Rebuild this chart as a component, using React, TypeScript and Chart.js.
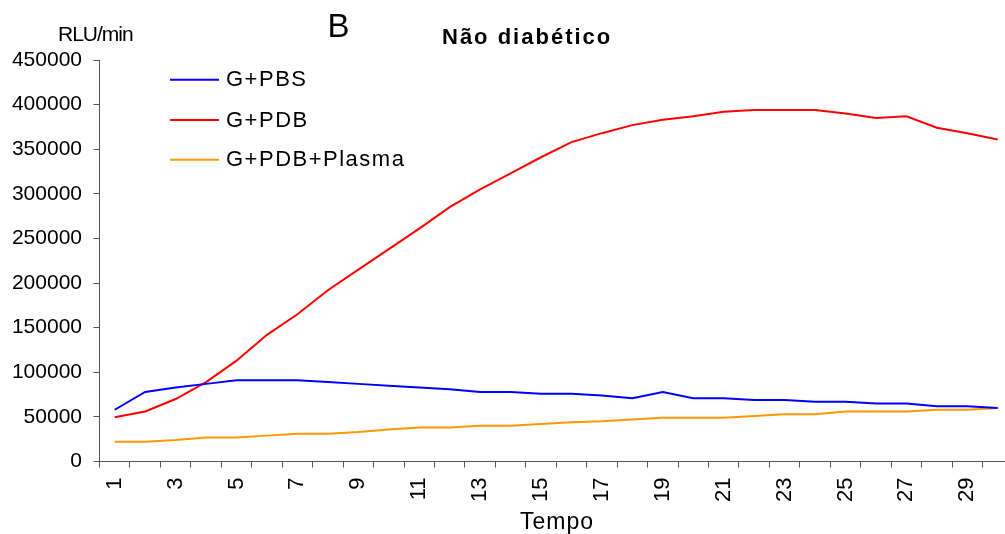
import React, { useEffect, useRef } from "react";
import { Chart, registerables } from "chart.js";

Chart.register(...registerables);

const categories = Array.from({ length: 30 }, (_, i) => String(i + 1));

const seriesNames = ["G+PBS", "G+PDB", "G+PDB+Plasma"];
const seriesColors = ["#0000FF", "#FF0000", "#FF9900"];

const gPBS = [58000, 78000, 83000, 87000, 91000, 91000, 91000, 89000, 87000, 85000, 83000, 81000, 78000, 78000, 76000, 76000, 74000, 71000, 78000, 71000, 71000, 69000, 69000, 67000, 67000, 65000, 65000, 62000, 62000, 60000];
const gPDB = [49500, 56000, 70000, 89000, 113000, 142000, 165000, 192000, 215000, 238000, 261000, 285000, 305000, 323000, 341000, 358000, 368000, 377000, 383000, 387000, 392000, 394000, 394000, 394000, 390000, 385000, 387000, 374000, 368000, 361000];
const gPDBPlasma = [22000, 22000, 24000, 27000, 27000, 29000, 31000, 31000, 33000, 36000, 38000, 38000, 40000, 40000, 42000, 44000, 45000, 47000, 49000, 49000, 49000, 51000, 53000, 53000, 56000, 56000, 56000, 58000, 58000, 60000];

const yTicksMax = 450000;
const yTicksStep = 50000;

const yUnit = "RLU/min";
const panelLetter = "B";
const titleText = "Não diabético";
const xTitle = "Tempo";

const FONT = "'Liberation Sans', Arial, sans-serif";
const AXIS = "#555555";

const textPlugin = {
  id: "textPlugin",
  afterDraw(chart: any) {
    const ctx = chart.ctx as CanvasRenderingContext2D;
    ctx.save();
    ctx.fillStyle = "#000";
    ctx.textBaseline = "alphabetic";

    // unit label
    ctx.font = `21px ${FONT}`;
    (ctx as any).letterSpacing = "-1px";
    ctx.textAlign = "left";
    ctx.fillText(yUnit, 58, 40.5);

    // panel letter
    (ctx as any).letterSpacing = "0px";
    ctx.font = `33px ${FONT}`;
    ctx.fillText(panelLetter, 327.5, 36.7);

    // title
    ctx.font = `bold 22px ${FONT}`;
    (ctx as any).letterSpacing = "2px";
    ctx.fillText(titleText, 442, 43.5);

    // x title
    ctx.font = `23px ${FONT}`;
    (ctx as any).letterSpacing = "1px";
    ctx.textAlign = "center";
    ctx.fillText(xTitle, 557, 528.5);

    // legend
    ctx.textAlign = "left";
    ctx.font = `22px ${FONT}`;
    (ctx as any).letterSpacing = "1.5px";
    const lineYs = [79.7, 120, 159.7];
    chart.data.datasets.forEach((ds: any, i: number) => {
      const y = lineYs[i];
      ctx.strokeStyle = ds.borderColor;
      ctx.lineWidth = 2;
      ctx.beginPath();
      ctx.moveTo(170, y);
      ctx.lineTo(219, y);
      ctx.stroke();
      ctx.fillText(ds.label, 226, y + 6.5);
    });
    ctx.restore();
  },
};

export default function App() {
  const canvasRef = useRef<HTMLCanvasElement | null>(null);

  useEffect(() => {
    if (!canvasRef.current) return;
    const series = [gPBS, gPDB, gPDBPlasma];
    const chart = new Chart(canvasRef.current, {
      type: "line",
      data: {
        labels: categories,
        datasets: series.map((d, i) => ({
          label: seriesNames[i],
          data: d,
          borderColor: seriesColors[i],
          backgroundColor: seriesColors[i],
          borderWidth: 2,
          pointRadius: 0,
          tension: 0,
          fill: false,
        })),
      },
      options: {
        animation: false,
        responsive: false,
        devicePixelRatio: 1,
        layout: { padding: { top: 60, right: 2, left: 0, bottom: 0 } },
        plugins: {
          legend: { display: false },
          title: { display: false },
          tooltip: { enabled: false },
        },
        scales: {
          x: {
            type: "category",
            offset: true,
            grid: {
              offset: true,
              drawOnChartArea: false,
              drawTicks: true,
              tickLength: 6,
              color: AXIS,
              tickColor: AXIS,
            },
            border: { display: true, color: AXIS, width: 1 },
            ticks: {
              autoSkip: false,
              minRotation: 90,
              maxRotation: 90,
              padding: 10,
              color: "#000",
              font: { family: FONT, size: 22 },
              callback: (_v: any, idx: number) => (idx % 2 === 0 ? categories[idx] : ""),
            },
            afterFit: (s: any) => {
              s.height = 72.5;
              s.paddingLeft = 0;
              s.paddingRight = 0;
              s.paddingTop = 0;
              s.paddingBottom = 0;
            },
          },
          y: {
            min: 0,
            max: yTicksMax,
            grid: {
              drawOnChartArea: false,
              drawTicks: true,
              tickLength: 6,
              color: AXIS,
              tickColor: AXIS,
            },
            border: { display: true, color: AXIS, width: 1 },
            ticks: {
              stepSize: yTicksStep,
              padding: 11.5,
              color: "#000",
              font: { family: FONT, size: 21 },
              callback: (v: any) => String(v),
            },
            afterFit: (s: any) => {
              s.width = 99.5;
              s.paddingTop = 0;
              s.paddingBottom = 0;
            },
          },
        },
      },
      plugins: [textPlugin],
    });
    return () => chart.destroy();
  }, []);

  return (
    <div
      style={{
        position: "fixed",
        left: 0,
        top: 0,
        width: 1005,
        height: 534,
        overflow: "hidden",
        background: "#fff",
      }}
    >
      <canvas ref={canvasRef} width={1015} height={534} style={{ display: "block" }} />
    </div>
  );
}
